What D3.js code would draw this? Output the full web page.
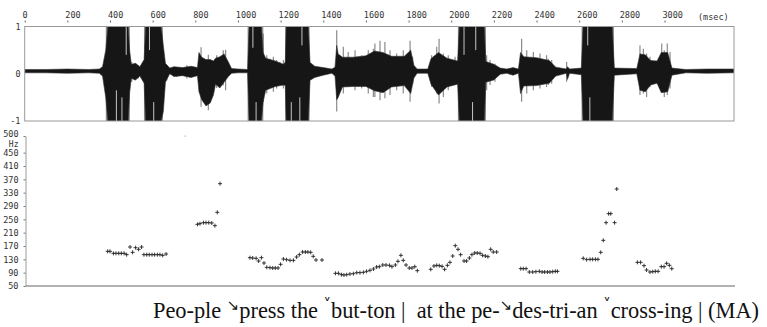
<!DOCTYPE html>
<html>
<head>
<meta charset="utf-8">
<script src="https://cdn.jsdelivr.net/npm/d3@7"></script>
<style>
  body { margin: 0; background: #fff; }
  svg { display: block; }
  .lbl { font-family: "DejaVu Sans Mono", monospace; font-size: 8.5px; fill: #333; }
</style>
</head>
<body>
<svg id="chart" width="767" height="327"></svg>
<script>
// time axis (msec)
const timeTicks = [0, 200, 400, 600, 800, 1000, 1200, 1400, 1600, 1800, 2000, 2200, 2400, 2600, 2800, 3000];
// pitch axis (Hz)
const hzTicks = [50, 90, 130, 170, 210, 250, 290, 330, 370, 410, 450, 500];

// waveform envelope: time (msec), upper and lower amplitude
const wavMs = [0, 100, 200, 300, 350, 365, 380, 390, 485, 492, 500, 520, 540, 560, 567, 640, 650, 660, 680, 700,
  740, 780, 810, 817, 830, 850, 870, 885, 895, 915, 935, 955, 970, 1000, 1045, 1052, 1110, 1118, 1130, 1175,
  1213, 1222, 1226, 1330, 1338, 1360, 1400, 1440, 1455, 1463, 1470, 1490, 1540, 1600, 1640, 1680, 1720, 1780,
  1810, 1825, 1840, 1890, 1905, 1940, 1980, 2030, 2038, 2155, 2162, 2200, 2230, 2260, 2290, 2315, 2325, 2340,
  2400, 2460, 2490, 2540, 2545, 2555, 2610, 2618, 2755, 2765, 2870, 2885, 2910, 2935, 2965, 2985, 3015, 3035,
  3100, 3200, 3326];
const wavHi = [0.09, 0.09, 0.1, 0.09, 0.1, 0.15, 0.5, 1, 1, 0.5, 0.2, 0.22, 0.15, 0.3, 1, 1, 0.6, 0.22, 0.12, 0.15,
  0.13, 0.16, 0.13, 0.45, 0.35, 0.3, 0.3, 0.27, 0.33, 0.36, 0.42, 0.25, 0.11, 0.1, 0.09, 1, 1, 0.45, 0.33, 0.27,
  0.2, 0.25, 1, 1, 0.24, 0.16, 0.13, 0.1, 0.14, 0.6, 0.42, 0.35, 0.35, 0.38, 0.48, 0.45, 0.37, 0.37,
  0.5, 0.18, 0.1, 0.1, 0.32, 0.45, 0.33, 0.27, 1, 1, 0.26, 0.2, 0.12, 0.1, 0.13, 0.1, 0.45, 0.36,
  0.34, 0.28, 0.14, 0.1, 0.15, 0.1, 0.12, 1, 1, 0.12, 0.11, 0.42, 0.4, 0.28, 0.27, 0.45, 0.45, 0.12,
  0.09, 0.1, 0.1];
const wavLo = [0.02, 0.02, 0.01, 0.02, 0.01, -0.05, -0.5, -1, -1, -0.4, -0.1, -0.13, -0.05, -0.2, -1, -1, -0.8, -0.18, 0, -0.06,
  -0.04, -0.08, -0.04, -0.38, -0.55, -0.68, -0.62, -0.45, -0.22, -0.3, -0.18, -0.06, 0.01, 0.02, 0.02, -1, -1, -0.6, -0.35, -0.27,
  -0.24, -0.25, -1, -1, -0.14, -0.08, -0.03, 0.01, -0.05, -0.55, -0.5, -0.28, -0.27, -0.27, -0.36, -0.4, -0.28, -0.25,
  -0.42, -0.09, 0.01, 0.01, -0.22, -0.45, -0.28, -0.22, -1, -1, -0.18, -0.13, -0.01, 0.01, -0.03, 0.01, -0.42, -0.26,
  -0.25, -0.2, -0.05, 0.01, -0.12, 0.01, -0.02, -1, -1, -0.03, 0, -0.35, -0.38, -0.24, -0.2, -0.4, -0.38, -0.03,
  0.02, 0.01, 0.02];

// single spikes that stand out of the envelope: time (msec), top and bottom amplitude
const spikeMs = [383, 388, 487, 490, 502, 517, 533, 562, 565, 645, 666, 713, 760, 827, 861, 900, 931, 942,
  1048, 1054, 1112, 1116, 1119, 1135, 1150, 1166, 1181, 1197, 1213, 1224, 1228, 1328, 1333,
  1463, 1494, 1517, 1549, 1580, 1611, 1635, 1642, 1666, 1689, 1713, 1744, 1775, 1807, 1819,
  1908, 1932, 1943, 1963, 1986, 2018, 2034, 2038, 2155, 2160, 2166, 2182, 2205,
  2330, 2354, 2385, 2416, 2447, 2455, 2471, 2541, 2614, 2618, 2755, 2760,
  2885, 2901, 2916, 2932, 2987, 2999, 3013, 3026];
const spikeHi = [1, 1, 1, 1, 0.25, 0.21, 0.18, 1, 1, 1, 0.18, 0.14, 0.18, 0.56, 0.4, 0.39, 0.5, 0.51,
  1, 1, 1, 1, 0.85, 0.39, 0.32, 0.36, 0.29, 0.25, 0.29, 1, 1, 1, 1,
  0.92, 0.57, 0.46, 0.5, 0.39, 0.5, 0.53, 0.64, 0.7, 0.67, 0.5, 0.43, 0.5, 0.7, 0.36,
  0.39, 0.57, 0.74, 0.43, 0.39, 0.36, 1, 1, 1, 1, 0.39, 0.29, 0.21,
  0.74, 0.5, 0.46, 0.43, 0.39, 0.32, 0.29, 0.25, 1, 1, 1, 1,
  0.6, 0.53, 0.43, 0.36, 0.64, 0.5, 0.64, 0.46];
const spikeLo = [-1, -1, -1, -1, -0.17, -0.14, -0.1, -1, -1, -1, -0.14, -0.07, -0.1, -0.7, -0.77, -0.3, -0.25, -0.35,
  -1, -1, -1, -1, -0.6, -0.42, -0.28, -0.38, -0.31, -0.24, -0.31, -1, -1, -1, -1,
  -0.8, -0.42, -0.28, -0.35, -0.31, -0.42, -0.49, -0.49, -0.56, -0.52, -0.45, -0.35, -0.42, -0.59, -0.21,
  -0.28, -0.42, -0.63, -0.49, -0.35, -0.24, -1, -1, -1, -1, -0.35, -0.24, -0.17,
  -0.59, -0.42, -0.35, -0.31, -0.28, -0.24, -0.21, -0.17, -1, -1, -1, -1,
  -0.45, -0.42, -0.49, -0.28, -0.35, -0.49, -0.45, -0.31];

// light gaps inside the clipped bursts: time (msec), from and to amplitude
const gapMs = [430, 456, 476, 585, 605, 1070, 1085, 1250, 1290, 1300, 2060, 2100, 2115, 2640, 2650];
const gapFrom = [-0.35, -0.5, 0.4, 0.5, -0.6, 0.55, -0.6, -0.6, -0.5, 0.6, 0.4, -0.6, 0.5, 0.6, -0.5];
const gapTo = [-1, -1, 1, 1, -1, 1, -1, -1, -1, 1, 1, -1, 1, 1, -1];

// F0 points: time (msec) and Hz
const pitchMs = [389, 400, 416, 428, 441, 453, 466, 478, 494, 506, 520, 534, 548, 559, 572, 584, 597, 609, 622, 634, 647, 663,
  810, 822, 838, 850, 863, 877, 892, 903, 916,
  1056, 1069, 1085, 1097, 1110, 1122, 1135, 1150, 1163, 1175, 1188, 1200, 1213, 1228, 1244, 1260, 1275, 1288, 1303, 1316, 1328, 1341, 1353, 1366, 1394,
  1457, 1471, 1485, 1497, 1510, 1525, 1541, 1557, 1572, 1588, 1603, 1619, 1635, 1650, 1663, 1679, 1694, 1710, 1722, 1738, 1750, 1764, 1775, 1788, 1803, 1816, 1829, 1841,
  1904, 1919, 1932, 1944, 1957, 1969, 1982, 1994, 2007, 2019, 2032, 2044, 2060, 2072, 2085, 2097, 2110, 2122, 2135, 2147, 2160, 2172, 2185, 2197, 2213,
  2326, 2338, 2351, 2366, 2382, 2397, 2413, 2426, 2438, 2451, 2463, 2476, 2488, 2498,
  2619, 2635, 2651, 2663, 2676, 2688, 2701, 2713, 2726, 2738, 2748, 2766, 2776,
  2873, 2888, 2904, 2916, 2932, 2945, 2957, 2970, 2985, 2998, 3010, 3023, 3034];
const pitchHz = [154, 154, 148, 148, 148, 148, 148, 144, 167, 151, 165, 160, 167, 144, 144, 144, 144, 144, 144, 144, 142, 146,
  235, 237, 240, 240, 240, 239, 231, 271, 357,
  135, 134, 133, 125, 135, 119, 106, 105, 104, 104, 104, 115, 131, 129, 127, 127, 137, 144, 152, 152, 152, 151, 139, 128, 128,
  88, 88, 84, 83, 84, 86, 87, 90, 90, 91, 94, 97, 101, 107, 108, 113, 113, 112, 108, 113, 124, 142, 127, 113, 104, 104, 108, 96,
  100, 110, 112, 111, 109, 100, 112, 121, 140, 171, 160, 144, 125, 125, 134, 144, 149, 149, 148, 142, 140, 138, 160, 152, 152,
  102, 102, 102, 92, 92, 93, 94, 92, 92, 92, 92, 93, 94, 94,
  133, 129, 130, 130, 130, 130, 151, 187, 240, 267, 267, 240, 341,
  121, 121, 111, 98, 92, 93, 94, 94, 108, 108, 118, 112, 102];

const svg = d3.select("#chart");

const x = d3.scaleLinear().domain([0, 3000]).range([24.7, 664.5]);
const endMs = 3326;
const yWav = d3.scaleLinear().domain([-1, 1]).range([121, 26.5]);
const yHz = d3.scaleLinear().domain([50, 500]).range([286, 136]);

// ---- top time axis (labels start just left of the small tick)
const topAxis = svg.append("g").attr("transform", "translate(0,22.5)")
  .call(d3.axisTop(x).tickValues(timeTicks).tickFormat(d3.format("d")).tickSize(2).tickSizeOuter(0).tickPadding(2.5));
topAxis.select(".domain").remove();
topAxis.selectAll(".tick line").attr("stroke", "#666");
topAxis.selectAll(".tick text").attr("class", "lbl").attr("text-anchor", "start").attr("dx", -2.6)
  .style("font-family", "DejaVu Sans Mono").style("font-size", "8.5px").attr("fill", "#333");
svg.append("text").attr("class", "lbl").attr("x", 698).attr("y", 20).text("(msec)");

// ---- waveform panel
svg.append("clipPath").attr("id", "wclip").append("rect")
  .attr("x", x(0)).attr("y", yWav(1)).attr("width", x(endMs) - x(0)).attr("height", yWav(-1) - yWav(1));
const wav = svg.append("g").attr("clip-path", "url(#wclip)");

wav.selectAll("line.spike").data(d3.range(spikeMs.length)).join("line").attr("class", "spike")
  .attr("x1", i => x(spikeMs[i])).attr("x2", i => x(spikeMs[i]))
  .attr("y1", i => yWav(spikeHi[i])).attr("y2", i => yWav(spikeLo[i]))
  .attr("stroke", "#8a8a8a").attr("stroke-width", 1.2);

const idx = d3.range(wavMs.length);
wav.append("path")
  .attr("d", d3.area().x(i => x(wavMs[i])).y0(i => yWav(wavLo[i])).y1(i => yWav(wavHi[i]))(idx))
  .attr("fill", "#161616").attr("stroke", "#333").attr("stroke-width", 0.6);

wav.selectAll("line.gap").data(d3.range(gapMs.length)).join("line").attr("class", "gap")
  .attr("x1", i => x(gapMs[i])).attr("x2", i => x(gapMs[i]))
  .attr("y1", i => yWav(gapFrom[i])).attr("y2", i => yWav(gapTo[i]))
  .attr("stroke", "#d8d8d8").attr("stroke-width", 0.9);

svg.append("rect").attr("x", x(0)).attr("y", yWav(1)).attr("width", x(endMs) - x(0)).attr("height", yWav(-1) - yWav(1))
  .attr("fill", "none").attr("stroke", "#999").attr("stroke-width", 1);

[[1, "1"], [0, "0"], [-1, "-1"]].forEach(([v, t]) => {
  svg.append("text").attr("class", "lbl").attr("x", 20.5).attr("y", yWav(v) + 3)
    .attr("text-anchor", "end").text(t);
});

// ---- pitch panel
const leftAxis = svg.append("g").attr("transform", "translate(25.5,0)")
  .call(d3.axisLeft(yHz).tickValues(hzTicks).tickSize(2).tickSizeOuter(0).tickPadding(5));
leftAxis.select(".domain").attr("stroke", "#999");
leftAxis.selectAll(".tick line").attr("stroke", "#777");
leftAxis.selectAll(".tick text").attr("class", "lbl").attr("dy", "0.32em")
  .style("font-family", "DejaVu Sans Mono").style("font-size", "8.5px").attr("fill", "#333");
leftAxis.selectAll(".tick").filter(d => d === 500).select("text").attr("dy", "0.1em");
svg.append("text").attr("class", "lbl").attr("x", 18.5).attr("y", yHz(500) + 10.5)
  .attr("text-anchor", "end").style("font-size", "8px").text("Hz");

svg.append("line").attr("x1", 25.5).attr("x2", x(endMs) + 1).attr("y1", yHz(50)).attr("y2", yHz(50))
  .attr("stroke", "#999").attr("stroke-width", 1.3);

const pts = svg.append("g").attr("stroke", "#222").attr("stroke-width", 0.9);
pitchMs.forEach((t, i) => {
  const px = x(t), py = yHz(pitchHz[i]);
  pts.append("path").attr("d", `M${px - 2},${py}h4M${px},${py - 2}v4`);
});
// one clipped value at the top edge
svg.append("rect").attr("x", x(752) - 0.5).attr("y", yHz(500) - 0.5).attr("width", 1.2).attr("height", 1.2).attr("fill", "#aaa");

// ---- transcription
const line = svg.append("text").attr("x", 153).attr("y", 318).style("white-space", "pre")
  .attr("textLength", 606).attr("lengthAdjust", "spacing")
  .style("font-family", "'Liberation Serif', 'Times New Roman', serif").style("font-size", "22.4px").attr("fill", "#111");
const parts = [
  ["Peo-ple ", false], ["↘", true], ["press the ", false], ["˅", true], ["but-ton |  at the pe-", false],
  ["↘", true], ["des-tri-an ", false], ["˅", true], ["cross-ing | (MA)", false]
];
parts.forEach(([t, mark], i) => {
  const ts = line.append("tspan").text(t);
  if (mark) ts.style("font-family", "DejaVu Sans").style("font-size", "15px").attr("dy", -8);
  else if (i > 0) ts.attr("dy", 8);
});
</script>
</body>
</html>
